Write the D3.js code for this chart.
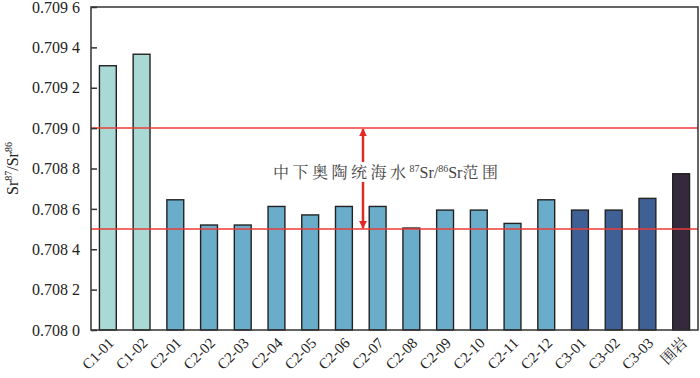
<!DOCTYPE html>
<html>
<head>
<meta charset="utf-8">
<script src="https://cdn.jsdelivr.net/npm/d3@7"></script>
<style>
  body { margin: 0; background: #fff; }
</style>
</head>
<body>
<div id="chart"></div>
<script>
// samples and Sr isotope ratios
var categories = ["C1-01", "C1-02", "C2-01", "C2-02", "C2-03", "C2-04", "C2-05", "C2-06", "C2-07",
  "C2-08", "C2-09", "C2-10", "C2-11", "C2-12", "C3-01", "C3-02", "C3-03", "围岩"];
var values = [0.709309, 0.709366, 0.708645, 0.708520, 0.708520, 0.708612, 0.708570, 0.708612, 0.708612,
  0.708505, 0.708594, 0.708594, 0.708528, 0.708645, 0.708594, 0.708594, 0.708652, 0.708774];
var groups = ["C1", "C1", "C2", "C2", "C2", "C2", "C2", "C2", "C2",
  "C2", "C2", "C2", "C2", "C2", "C3", "C3", "C3", "rock"];
var yTicks = [0.7080, 0.7082, 0.7084, 0.7086, 0.7088, 0.7090, 0.7092, 0.7094, 0.7096];
// Middle-Lower Ordovician seawater range
var seaRange = [0.70850, 0.70900];

var width = 700, height = 378;
var margin = {top: 7, right: 2, bottom: 48, left: 91};
var serif = "'Liberation Serif', 'Times New Roman', serif";
var cjk = "'Liberation Serif', 'Noto Serif CJK SC', 'Noto Sans CJK SC', serif";

var colors = {C1: "#a9d9d5", C2: "#6aadcb", C3: "#3f6094", rock: "#35293d"};

var svg = d3.select("#chart").append("svg")
  .attr("width", width)
  .attr("height", height);

var x = d3.scaleBand()
  .domain(categories)
  .range([margin.left, width - margin.right])
  .paddingInner(0.5)
  .paddingOuter(0.25);

var y = d3.scaleLinear()
  .domain([0.7080, 0.7096])
  .range([height - margin.bottom, margin.top]);

// bars
svg.append("g").selectAll("rect")
  .data(values)
  .enter().append("rect")
  .attr("x", function(d, i) { return x(categories[i]); })
  .attr("y", function(d) { return y(d); })
  .attr("width", x.bandwidth())
  .attr("height", function(d) { return y(0.7080) - y(d); })
  .attr("fill", function(d, i) { return colors[groups[i]]; })
  .attr("stroke", "#222")
  .attr("stroke-width", 1.4);

// seawater range lines
svg.append("g").selectAll("line")
  .data(seaRange)
  .enter().append("line")
  .attr("x1", margin.left)
  .attr("x2", width - margin.right)
  .attr("y1", function(d) { return Math.round(y(d)); })
  .attr("y2", function(d) { return Math.round(y(d)); })
  .attr("stroke", "#ec3b36")
  .attr("stroke-width", 1.4);

// double arrow split by the label
var ax = 363, labelY = 173;
svg.append("defs").append("marker")
  .attr("id", "head")
  .attr("viewBox", "0 0 10 10")
  .attr("refX", 9).attr("refY", 5)
  .attr("markerWidth", 3.2).attr("markerHeight", 3.2)
  .attr("orient", "auto")
  .append("path").attr("d", "M0,0L10,5L0,10Z").attr("fill", "#e12a26");

svg.append("line")
  .attr("x1", ax).attr("x2", ax)
  .attr("y1", labelY - 11).attr("y2", y(seaRange[1]) + 1)
  .attr("stroke", "#e12a26").attr("stroke-width", 2.5)
  .attr("marker-end", "url(#head)");
svg.append("line")
  .attr("x1", ax).attr("x2", ax)
  .attr("y1", labelY + 9).attr("y2", y(seaRange[0]) - 1)
  .attr("stroke", "#e12a26").attr("stroke-width", 2.5)
  .attr("marker-end", "url(#head)");

var note = svg.append("text")
  .attr("x", 273).attr("y", labelY + 5)
  .attr("fill", "#444")
  .style("font-family", cjk)
  .style("font-size", "16px");
note.append("tspan").text("中下奥陶统海水").style("letter-spacing", "3.5px");
note.append("tspan").text("87").attr("dy", -6).style("font-size", "10px");
note.append("tspan").text("Sr/").attr("dy", 6);
note.append("tspan").text("86").attr("dy", -6).style("font-size", "10px");
note.append("tspan").text("Sr").attr("dy", 6);
note.append("tspan").text("范围").style("letter-spacing", "3.5px");

// frame
svg.append("rect")
  .attr("x", margin.left).attr("y", margin.top)
  .attr("width", width - margin.right - margin.left)
  .attr("height", height - margin.bottom - margin.top)
  .attr("fill", "none")
  .attr("stroke", "#333")
  .attr("stroke-width", 1.5);

// y axis, ticks pointing inward
var yAxis = d3.axisLeft(y)
  .tickValues(yTicks)
  .tickSizeInner(-6)
  .tickSizeOuter(0)
  .tickPadding(11)
  .tickFormat(function(d) { var s = d.toFixed(4); return s.slice(0, 5) + " " + s.slice(5); });

var gy = svg.append("g")
  .attr("transform", "translate(" + margin.left + ",0)")
  .call(yAxis)
  .attr("font-family", null);
gy.select(".domain").remove();
gy.selectAll("line").attr("stroke", "#333").attr("stroke-width", 1.5);
gy.selectAll("text")
  .style("font-family", serif)
  .style("font-size", "16px")
  .attr("fill", "#222");

// x axis labels rotated
var xAxis = d3.axisBottom(x).tickSize(0).tickPadding(0);
var gx = svg.append("g")
  .attr("transform", "translate(0," + (height - margin.bottom) + ")")
  .call(xAxis)
  .attr("font-family", null);
gx.select(".domain").remove();
gx.selectAll("text")
  .style("font-family", cjk)
  .style("font-size", "15px")
  .attr("fill", "#222")
  .attr("text-anchor", "end")
  .attr("dy", 0)
  .attr("transform", "translate(7,14) rotate(-45)");

// y title
var yt = svg.append("text")
  .attr("transform", "translate(18," + ((margin.top + height - margin.bottom) / 2) + ") rotate(-90)")
  .attr("text-anchor", "middle")
  .attr("fill", "#222")
  .style("font-family", serif)
  .style("font-size", "16px");
yt.append("tspan").text("Sr");
yt.append("tspan").text("87").attr("dy", -6).style("font-size", "10px");
yt.append("tspan").text("/Sr").attr("dy", 6);
yt.append("tspan").text("86").attr("dy", -6).style("font-size", "10px");
</script>
</body>
</html>
